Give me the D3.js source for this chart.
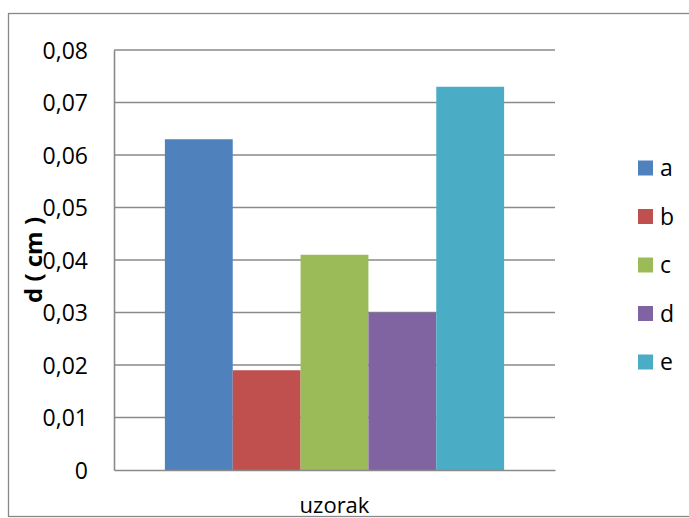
<!DOCTYPE html>
<html>
<head>
<meta charset="utf-8">
<script src="https://cdn.jsdelivr.net/npm/d3@7"></script>
<style>
  body { margin: 0; background: #fff; }
  svg { display: block; font-family: "Open Sans", sans-serif; }
</style>
</head>
<body>
<div id="chart"></div>
<script>
const series = ['a', 'b', 'c', 'd', 'e'];
const values = [0.063, 0.019, 0.041, 0.030, 0.073];
const colors = ['#4F81BD', '#C0504D', '#9BBB59', '#8064A2', '#4BACC6'];
const category = 'uzorak';
const yTicks = [0, 0.01, 0.02, 0.03, 0.04, 0.05, 0.06, 0.07, 0.08];

const width = 689, height = 518;
const plot = { left: 114, right: 555, top: 50, bottom: 470 };

const svg = d3.select('#chart').append('svg')
  .attr('width', width)
  .attr('height', height);

// outer chart border
svg.append('rect')
  .attr('x', 8.5).attr('y', 13.5)
  .attr('width', 700).attr('height', 503)
  .attr('fill', 'none')
  .attr('stroke', '#888')
  .attr('stroke-width', 1.3);

const y = d3.scaleLinear().domain([0, 0.08]).range([plot.bottom, plot.top]);
const xCat = d3.scaleBand().domain([category]).range([plot.left, plot.right]);
// excel gap width 150% -> bars take 5 of 6.5 units
const groupW = xCat.bandwidth() * 5 / 6.5;
const xBar = d3.scaleBand().domain(series)
  .range([xCat(category) + (xCat.bandwidth() - groupW) / 2, xCat(category) + (xCat.bandwidth() + groupW) / 2]);

// gridlines
svg.append('g')
  .selectAll('line')
  .data(yTicks.slice(1))
  .join('line')
  .attr('x1', plot.left).attr('x2', plot.right)
  .attr('y1', d => y(d)).attr('y2', d => y(d))
  .attr('stroke', '#8a8a8a')
  .attr('stroke-width', 1.6);

// bars
svg.append('g')
  .selectAll('rect')
  .data(series)
  .join('rect')
  .attr('x', d => xBar(d))
  .attr('width', xBar.bandwidth())
  .attr('y', (d, i) => y(values[i]))
  .attr('height', (d, i) => y(0) - y(values[i]))
  .attr('fill', (d, i) => colors[i]);

// y axis
const yAxis = svg.append('g')
  .attr('transform', `translate(${plot.left},0)`)
  .call(d3.axisLeft(y).tickValues(yTicks).tickSize(0).tickPadding(26)
    .tickFormat(d => d === 0 ? '0' : d3.format('.2f')(d).replace('.', ',')));
yAxis.select('.domain').attr('stroke', '#8a8a8a').attr('stroke-width', 1.6);
yAxis.selectAll('text')
  .attr('font-size', 23)
  .attr('font-family', '"Open Sans", sans-serif')
  .attr('fill', '#000')
  .attr('dy', '0.35em');

// x axis
const xAxis = svg.append('g')
  .attr('transform', `translate(0,${plot.bottom})`)
  .call(d3.axisBottom(xCat).tickSize(0).tickPadding(27));
xAxis.select('.domain').attr('stroke', '#8a8a8a').attr('stroke-width', 1.6);
xAxis.selectAll('text')
  .attr('font-size', 22)
  .attr('font-family', '"Open Sans", sans-serif')
  .attr('fill', '#000');

// y axis title
svg.append('text')
  .attr('transform', `translate(42,${(plot.top + plot.bottom) / 2}) rotate(-90)`)
  .attr('text-anchor', 'middle')
  .attr('font-size', 24)
  .attr('font-weight', 700)
  .text('d ( cm )');

// legend
const legend = svg.append('g')
  .selectAll('g')
  .data(series)
  .join('g')
  .attr('transform', (d, i) => `translate(638,${168 + i * 48.5})`);
legend.append('rect')
  .attr('x', 0).attr('y', -7.5)
  .attr('width', 15).attr('height', 15)
  .attr('fill', (d, i) => colors[i]);
legend.append('text')
  .attr('x', 22)
  .attr('dy', '0.35em')
  .attr('font-size', 23)
  .text(d => d);
</script>
</body>
</html>
